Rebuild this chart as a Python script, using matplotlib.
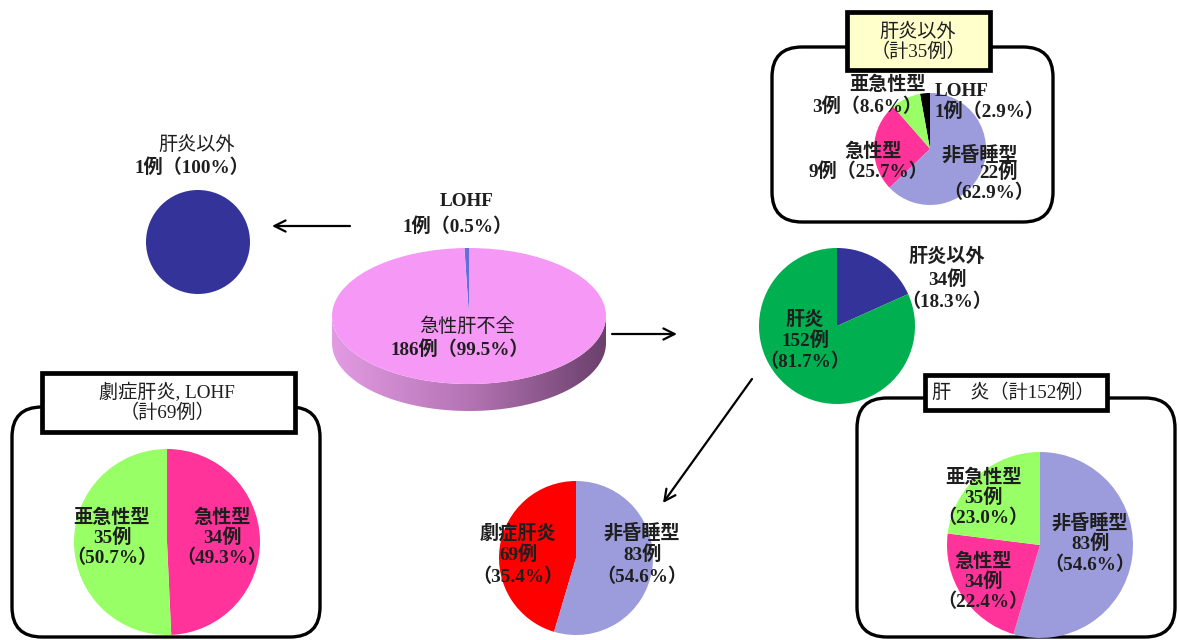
"""
Flow chart of acute liver failure cases: a set of pies connected by arrows,
with rounded frames around the sub-group breakdowns.
"""

import matplotlib

matplotlib.use("Agg")
import matplotlib.pyplot as plt
import numpy as np
from matplotlib.colors import LinearSegmentedColormap
from matplotlib.patches import FancyBboxPatch, Polygon, Rectangle

W, H = 1179, 640
FONT = ["Liberation Serif", "Noto Sans CJK JP"]
TXT = "#1e1e1e"

# --- data ---
alf_labels = ["LOHF", "急性肝不全"]
alf_counts = [1, 186]
alf_pct = ["0.5%", "99.5%"]

lohf_labels = ["肝炎以外"]
lohf_counts = [1]
lohf_pct = ["100%"]

cause_labels = ["肝炎以外", "肝炎"]
cause_counts = [34, 152]
cause_pct = ["18.3%", "81.7%"]

nonhep_labels = ["LOHF", "亜急性型", "急性型", "非昏睡型"]
nonhep_counts = [1, 3, 9, 22]
nonhep_pct = ["2.9%", "8.6%", "25.7%", "62.9%"]

sev_labels = ["劇症肝炎", "非昏睡型"]
sev_counts = [69, 83]
sev_pct = ["35.4%", "54.6%"]

fulm_labels = ["急性型", "亜急性型"]
fulm_counts = [34, 35]
fulm_pct = ["49.3%", "50.7%"]

hep_labels = ["非昏睡型", "急性型", "亜急性型"]
hep_counts = [83, 34, 35]
hep_pct = ["54.6%", "22.4%", "23.0%"]

# colours
LAVENDER = "#9c9cdc"
PINK = "#ff3399"
LGREEN = "#99ff66"
NAVY = "#333399"
GREEN = "#00b050"
RED = "#ff0000"
MAUVE = "#f699f6"
LOHF_BLUE = "#6070d8"

fig = plt.figure(figsize=(W / 100, H / 100), dpi=100)
bg = fig.add_axes([0, 0, 1, 1])
bg.axis("off")


def pie_at(cx, cy, rx, ry, counts, colors, start=90, ccw=True):
    """Pie drawn in its own axes, placed by pixel centre and radii."""
    ax = fig.add_axes([(cx - rx) / W, (H - cy - ry) / H, 2 * rx / W, 2 * ry / H])
    ax.pie(counts, colors=colors, startangle=start, counterclock=ccw,
           wedgeprops=dict(linewidth=0))
    ax.set_aspect("auto")
    ax.set_xlim(-1, 1)
    ax.set_ylim(-1, 1)
    ax.axis("off")
    return ax


def text(x, y, s, ha="center", size=13.8, weight="bold"):
    fig.text(x / W, 1 - y / H, s, ha=ha, va="center", fontsize=size,
             family=FONT, weight=weight, color=TXT)


def block(x, y0, lines, dy=21, ha="center", weight="bold"):
    for i, s in enumerate(lines):
        text(x, y0 + i * dy, s, ha=ha, weight=weight)


def frame(x0, y0, x1, y1, rad=30):
    bg.add_patch(FancyBboxPatch((x0, y0), x1 - x0, y1 - y0,
                                boxstyle=f"round,pad=0,rounding_size={rad}",
                                fc="white", ec="black", lw=2.4, zorder=1))


def title_box(x0, y0, x1, y1, fc="white"):
    bg.add_patch(Rectangle((x0, y0), x1 - x0, y1 - y0, fc=fc, ec="black",
                           lw=3.4, zorder=2))


def arrow(x0, y0, x1, y1):
    bg.annotate("", xy=(x1, y1), xytext=(x0, y0),
                arrowprops=dict(arrowstyle="->", lw=1.6, color="black",
                                mutation_scale=20, shrinkA=0, shrinkB=0))


# frames and title boxes
frame(772, 47, 1053, 222)
frame(12, 407, 320, 637)
frame(857, 398, 1175, 637)
title_box(847, 12, 990, 70, fc="#ffffcc")
title_box(42, 373, 295, 432)
title_box(925, 375, 1107, 410)

# arrows
arrow(350, 226, 272, 226)
arrow(612, 334, 677, 334)
arrow(752, 379, 663, 503)

# 3D-looking side of the central pie (gradient band below the top face)
cx3, cy3, a3, b3, t3 = 469, 316, 137, 68, 27
t = np.linspace(0, np.pi, 120)
top_arc = np.c_[cx3 + a3 * np.cos(t), cy3 + b3 * np.sin(t)]
bot_arc = top_arc[::-1] + [0, t3]
side = Polygon(np.vstack([top_arc, bot_arc]), closed=True, fc="none", ec="none")
bg.add_patch(side)
side_cmap = LinearSegmentedColormap.from_list("side", ["#e39be3", "#b474b4", "#6b406b"])
im = bg.imshow(np.linspace(0, 1, 256).reshape(1, -1), cmap=side_cmap, aspect="auto",
               extent=(cx3 - a3, cx3 + a3, cy3 + b3 + t3, cy3), zorder=1)
im.set_clip_path(side)

bg.set_xlim(0, W)
bg.set_ylim(H, 0)

# pies
pie_at(cx3, cy3, a3, b3, alf_counts, [LOHF_BLUE, MAUVE], start=90, ccw=True)
pie_at(198, 242, 52, 52, lohf_counts, [NAVY])
pie_at(837, 326, 78, 78, cause_counts, [NAVY, GREEN], start=90, ccw=False)
pie_at(930, 149, 56, 56, nonhep_counts, ["black", LGREEN, PINK, LAVENDER], start=90, ccw=True)
pie_at(167, 542, 93, 93, fulm_counts, [PINK, LGREEN], start=90, ccw=False)
pie_at(576, 558, 77, 77, sev_counts, [RED, LAVENDER], start=90, ccw=True)
pie_at(1040, 545, 93, 93, hep_counts, [LAVENDER, PINK, LGREEN], start=90, ccw=False)

# labels
text(467, 202, alf_labels[0])
text(458, 227, f"{alf_counts[0]}例（{alf_pct[0]}）")
text(467, 327, alf_labels[1], weight="normal")
text(460, 350, f"{alf_counts[1]}例（{alf_pct[1]}）")

text(197, 145, lohf_labels[0], weight="normal")
text(192, 168, f"{lohf_counts[0]}例（{lohf_pct[0]}）")

block(947, 257, [cause_labels[0], f"{cause_counts[0]}例", f"（{cause_pct[0]}）"], dy=22.5)
block(805, 320, [cause_labels[1], f"{cause_counts[1]}例", f"（{cause_pct[1]}）"], dy=21)

block(918, 32, ["肝炎以外", f"（計{sum(nonhep_counts)}例）"], dy=20, weight="normal")
text(935, 91, nonhep_labels[0], ha="left")
text(935, 112, f"{nonhep_counts[0]}例（{nonhep_pct[0]}）", ha="left")
text(888, 85, nonhep_labels[1])
text(867, 107, f"{nonhep_counts[1]}例（{nonhep_pct[1]}）")
text(873, 152, nonhep_labels[2])
text(868, 172, f"{nonhep_counts[2]}例（{nonhep_pct[2]}）")
text(980, 155, nonhep_labels[3])
text(998, 173, f"{nonhep_counts[3]}例")
text(989, 193, f"（{nonhep_pct[3]}）")

block(167, 393, ["劇症肝炎, LOHF", f"（計{sum(fulm_counts)}例）"], dy=20, weight="normal")
block(222, 518, [fulm_labels[0], f"{fulm_counts[0]}例", f"（{fulm_pct[0]}）"], dy=20)
block(112, 518, [fulm_labels[1], f"{fulm_counts[1]}例", f"（{fulm_pct[1]}）"], dy=20)

block(518, 533, [sev_labels[0], f"{sev_counts[0]}例", f"（{sev_pct[0]}）"], dy=22)
block(642, 533, [sev_labels[1], f"{sev_counts[1]}例", f"（{sev_pct[1]}）"], dy=22)

text(1013, 393, f"肝　炎（計{sum(hep_counts)}例）", weight="normal")
block(1090, 523, [hep_labels[0], f"{hep_counts[0]}例", f"（{hep_pct[0]}）"], dy=21)
block(983, 562, [hep_labels[1], f"{hep_counts[1]}例", f"（{hep_pct[1]}）"], dy=20)
block(983, 478, [hep_labels[2], f"{hep_counts[2]}例", f"（{hep_pct[2]}）"], dy=20)

fig.savefig("out.png", dpi=100)
plt.close(fig)
